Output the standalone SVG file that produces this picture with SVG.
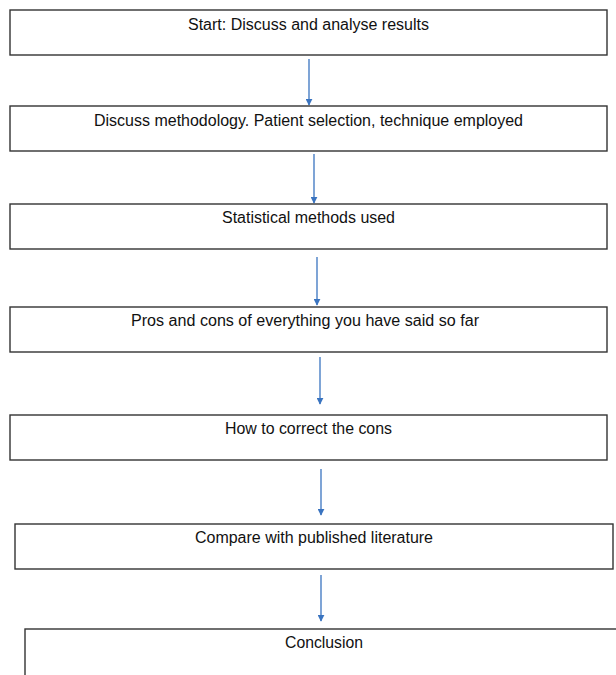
<svg xmlns="http://www.w3.org/2000/svg" width="616" height="675" viewBox="0 0 616 675">
<style>
.box{fill:#fff;stroke:#333;stroke-width:1.4}
.lbl{font-family:"Liberation Sans",Arial,sans-serif;font-size:16px;fill:#111;text-anchor:middle}
.arr{stroke:#3a74c0;stroke-width:1.3;fill:none;marker-end:url(#ah)}
</style>
<defs>
<marker id="ah" viewBox="0 0 10 10" refX="9" refY="5" markerWidth="7" markerHeight="7" markerUnits="userSpaceOnUse" orient="auto">
<path d="M0,0 L10,5 L0,10 z" fill="#3a74c0"/>
</marker>
</defs>
<rect width="616" height="675" fill="#fff"/>
<g id="connectors">
<line class="arr" x1="309" y1="59" x2="309" y2="105"/>
<line class="arr" x1="314" y1="154" x2="314" y2="203"/>
<line class="arr" x1="317" y1="257" x2="317" y2="305"/>
<line class="arr" x1="320" y1="357" x2="320" y2="404"/>
<line class="arr" x1="321" y1="469" x2="321" y2="515"/>
<line class="arr" x1="321" y1="575" x2="321" y2="621"/>
</g>
<g id="n1"><rect class="box" x="10" y="10" width="597" height="45"/><text class="lbl" x="308.5" y="30" textLength="241" lengthAdjust="spacingAndGlyphs">Start: Discuss and analyse results</text></g>
<g id="n2"><rect class="box" x="10" y="106" width="597" height="45"/><text class="lbl" x="308.5" y="126" textLength="429" lengthAdjust="spacingAndGlyphs">Discuss methodology. Patient selection, technique employed</text></g>
<g id="n3"><rect class="box" x="10" y="204" width="597" height="45"/><text class="lbl" x="308.5" y="223" textLength="173" lengthAdjust="spacingAndGlyphs">Statistical methods used</text></g>
<g id="n4"><rect class="box" x="10" y="307" width="597" height="45"/><text class="lbl" x="305" y="326" textLength="348" lengthAdjust="spacingAndGlyphs">Pros and cons of everything you have said so far</text></g>
<g id="n5"><rect class="box" x="10" y="415" width="597" height="45"/><text class="lbl" x="308.5" y="434" textLength="167" lengthAdjust="spacingAndGlyphs">How to correct the cons</text></g>
<g id="n6"><rect class="box" x="15" y="524" width="598" height="45"/><text class="lbl" x="314" y="543" textLength="238" lengthAdjust="spacingAndGlyphs">Compare with published literature</text></g>
<g id="n7"><rect class="box" x="25" y="629" width="600" height="50"/><text class="lbl" x="324" y="648" textLength="78" lengthAdjust="spacingAndGlyphs">Conclusion</text></g>
</svg>
